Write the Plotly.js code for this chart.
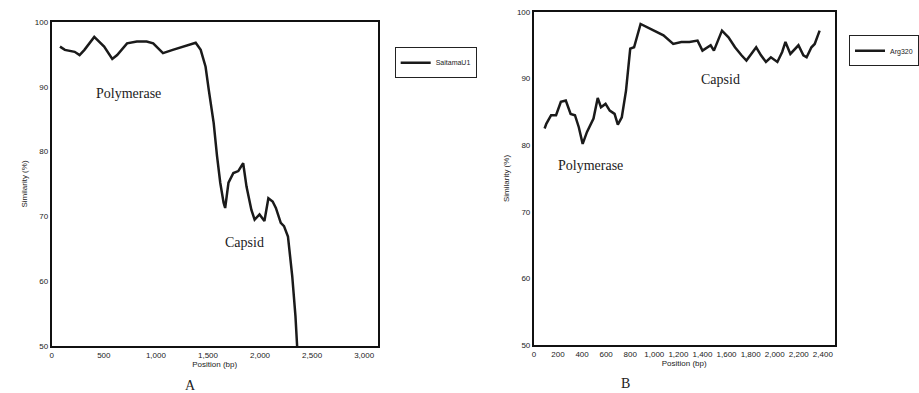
<!DOCTYPE html>
<html>
<head>
<meta charset="utf-8">
<script src="https://cdn.plot.ly/plotly-3.0.1.min.js"></script>
<style>html,body{margin:0;padding:0;background:#fff;}#chart{width:919px;height:393px;}</style>
</head>
<body>
<div id="chart"></div>
<script>
// Panel A: SaitamaU1
const posA = [79,126,220,267,314,408,503,581,628,723,817,911,974,1068,1162,1257,1382,1430,1477,1508,1555,1587,1618,1650,1665,1697,1744,1791,1838,1870,1917,1948,1995,2042,2080,2121,2152,2199,2230,2268,2309,2340,2356];
const simA = [96.2,95.7,95.4,94.9,95.7,97.7,96.2,94.3,94.9,96.7,97.0,97.0,96.7,95.2,95.7,96.2,96.8,95.7,93.1,89.5,84.4,79.3,75.2,72.1,71.3,75.2,76.7,77.0,78.2,74.6,71.0,69.5,70.3,69.3,72.8,72.3,71.3,69.0,68.5,66.9,60.8,54.6,50.0];
// Panel B: Arg320
const posB = [89,103,143,184,224,265,305,341,373,405,441,495,530,557,595,630,670,697,730,765,800,832,886,941,1022,1076,1157,1224,1292,1359,1400,1468,1495,1562,1616,1670,1724,1765,1805,1846,1886,1927,1968,2022,2062,2089,2130,2197,2238,2265,2305,2332,2373];
const simB = [82.5,83.2,84.5,84.5,86.5,86.7,84.7,84.5,82.7,80.2,82.0,84.0,87.1,85.7,86.2,85.2,84.7,83.1,84.2,88.2,94.5,94.7,98.2,97.7,97.0,96.5,95.2,95.5,95.5,95.7,94.2,95.0,94.2,97.2,96.2,94.7,93.5,92.7,93.7,94.7,93.5,92.5,93.2,92.5,94.0,95.5,93.7,95.0,93.5,93.2,94.7,95.2,97.2];
const nameA = "SaitamaU1";
const nameB = "Arg320";
const yTicks = [50,60,70,80,90,100];
const xTicksA = [0,500,1000,1500,2000,2500,3000];
const xTicksB = [0,200,400,600,800,1000,1200,1400,1600,1800,2000,2200,2400];

const tickFont = {family:"Liberation Sans, Arial, sans-serif", size:8, color:"#222"};
const axTitleFont = {family:"Liberation Sans, Arial, sans-serif", size:8, color:"#222"};
const serif = {family:"Liberation Serif, Times New Roman, serif", size:14, color:"#222"};
const legFont = {family:"Liberation Sans, Arial, sans-serif", size:7, color:"#222"};

const axisCommon = {
  showgrid:false, zeroline:false, showline:true, mirror:true,
  linecolor:"#111", linewidth:2, ticks:"", tickfont:tickFont,
  tickformat:",d"
};

const traces = [
  {x:posA, y:simA, name:nameA, type:"scatter", mode:"lines",
   line:{color:"#1a1a1a", width:2.5}, xaxis:"x", yaxis:"y", legend:"legend"},
  {x:posB, y:simB, name:nameB, type:"scatter", mode:"lines",
   line:{color:"#1a1a1a", width:2.5}, xaxis:"x2", yaxis:"y2", legend:"legend2"}
];

const layout = {
  width:919, height:393,
  margin:{l:0,r:0,t:0,b:0},
  paper_bgcolor:"#fff", plot_bgcolor:"#fff",
  showlegend:true,
  xaxis:Object.assign({}, axisCommon, {domain:[0.0577,0.4211], range:[0,3130],
    tickvals:xTicksA, anchor:"y",
    title:{text:"Position (bp)", font:axTitleFont, standoff:2}}),
  yaxis:Object.assign({}, axisCommon, {domain:[0.1196,0.944], range:[50,100],
    tickvals:yTicks, anchor:"x",
    title:{text:"Similarity (%)", font:axTitleFont, standoff:6}}),
  xaxis2:Object.assign({}, axisCommon, {domain:[0.5952,0.9304], range:[0,2497],
    tickvals:xTicksB, anchor:"y2",
    title:{text:"Position (bp)", font:axTitleFont, standoff:2}}),
  yaxis2:Object.assign({}, axisCommon, {domain:[0.1221,0.9695], range:[50,100],
    tickvals:yTicks, anchor:"x2",
    title:{text:"Similarity (%)", font:axTitleFont, standoff:6}}),
  legend:{x:0.44, y:0.88, xanchor:"left", yanchor:"top",
    bordercolor:"#222", borderwidth:1, bgcolor:"#fff",
    font:legFont, tracegroupgap:0, itemwidth:30},
  legend2:{x:0.947, y:0.91, xanchor:"left", yanchor:"top",
    bordercolor:"#222", borderwidth:1, bgcolor:"#fff",
    font:legFont, tracegroupgap:0, itemwidth:30},
  annotations:[
    {xref:"x", yref:"y", x:740, y:89.0, text:"Polymerase", showarrow:false, font:serif},
    {xref:"x", yref:"y", x:1846, y:65.9, text:"Capsid", showarrow:false, font:serif},
    {xref:"x2", yref:"y2", x:470, y:76.9, text:"Polymerase", showarrow:false, font:serif},
    {xref:"x2", yref:"y2", x:1549, y:89.8, text:"Capsid", showarrow:false, font:serif},
    {xref:"paper", yref:"paper", x:188/919, y:1-385/393, text:"A", showarrow:false, font:serif, yanchor:"middle"},
    {xref:"paper", yref:"paper", x:647/919, y:1-383/393, text:"B", showarrow:false, font:serif, yanchor:"middle"}
  ]
};

Plotly.newPlot("chart", traces, layout, {displayModeBar:false, staticPlot:true});
</script>
</body>
</html>
